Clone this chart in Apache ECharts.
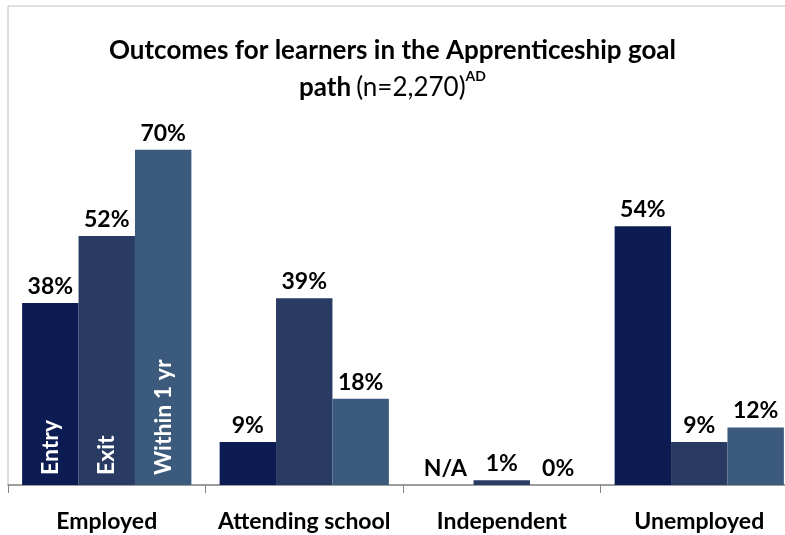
<!DOCTYPE html>
<html>
<head>
<meta charset="utf-8">
<script src="https://cdn.jsdelivr.net/npm/echarts@6/dist/echarts.min.js"></script>
<style>
  html, body { margin: 0; padding: 0; background: #fff; }
  #chart { width: 785px; height: 535px; }
</style>
</head>
<body>
<div id="chart"></div>
<script>
const categories = ['Employed', 'Attending school', 'Independent', 'Unemployed']
const seriesNames = ['Entry', 'Exit', 'Within 1 yr']
const entryValues = [38, 9, 0, 54]
const exitValues = [52, 39, 1, 9]
const withinValues = [70, 18, 0, 12]
// entry value for "Independent" was not available
const entryNA = [false, false, true, false]

const colors = ['#0c1b52', '#293b63', '#3c5a7c']
const font = 'Lato, "Open Sans", sans-serif'

const chart = echarts.init(document.getElementById('chart'))

const valueLabel = {
  show: true,
  position: 'top',
  distance: 5,
  color: '#000',
  fontFamily: font,
  fontWeight: 'bold',
  fontSize: 23,
}

function makeSeries(i, values) {
  return {
    name: seriesNames[i],
    type: 'bar',
    barGap: 0,
    barCategoryGap: '14.3%',
    itemStyle: { color: colors[i] },
    // first group carries the series name inside the bar
    data: values.map((v, j) => j !== 0 ? v : {
      value: v,
      label: {
        show: true,
        position: 'insideBottom',
        rotate: 90,
        align: 'left',
        verticalAlign: 'middle',
        distance: 10,
        color: '#fff',
        fontFamily: font,
        fontWeight: 'bold',
        fontSize: 23,
        formatter: seriesNames[i],
      },
    }),
    label: {
      ...valueLabel,
      formatter: (p) => (i === 0 && entryNA[p.dataIndex]) ? 'N/A' : p.value + '%',
    },
    // so the first group still gets its value on top
    markPoint: {
      symbol: 'rect',
      symbolSize: 0.01,
      silent: true,
      label: { ...valueLabel, formatter: (p) => p.value + '%' },
      data: [{ coord: [0, values[0]], value: values[0] }],
    },
  }
}

const option = {
  animation: false,
  title: {
    left: 'center',
    top: 27,
    text: '{b|Outcomes for learners in the Apprenticeship goal}\n{b|path} {n|(n=2,270)}{sup|AD}',
    textStyle: {
      rich: {
        b: { fontFamily: font, fontWeight: 'bold', fontSize: 26, color: '#000', lineHeight: 37 },
        n: { fontFamily: font, fontWeight: 'normal', fontSize: 26, color: '#000', lineHeight: 37 },
        sup: { fontFamily: font, fontSize: 14, color: '#000', verticalAlign: 'top', lineHeight: 37, padding: [0, 0, 12, 0] },
      },
    },
  },
  grid: {
    left: 8,
    top: 6,
    width: 790,
    bottom: 50,
    outerBoundsMode: 'none',
    show: true,
    borderColor: '#c0c0c0',
    borderWidth: 1,
  },
  xAxis: {
    type: 'category',
    data: categories,
    axisLine: { lineStyle: { color: '#868686', width: 1.5 } },
    axisTick: { show: true, length: 8, lineStyle: { color: '#868686' } },
    axisLabel: {
      color: '#000',
      fontFamily: font,
      fontWeight: 'bold',
      fontSize: 23,
      margin: 25,
      interval: 0,
    },
  },
  yAxis: {
    type: 'value',
    min: 0,
    max: 100,
    show: false,
  },
  series: [
    makeSeries(0, entryValues),
    makeSeries(1, exitValues),
    makeSeries(2, withinValues),
  ],
}

chart.setOption(option)
</script>
</body>
</html>
